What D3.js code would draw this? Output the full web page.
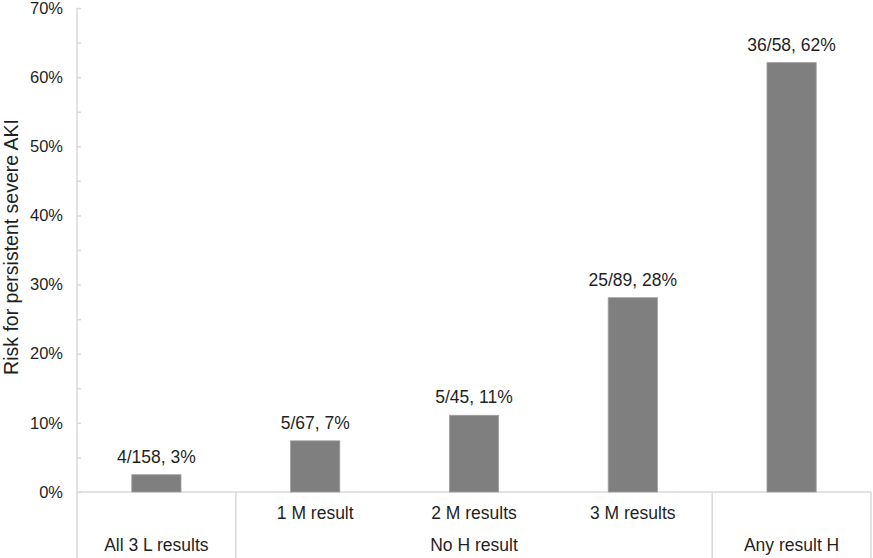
<!DOCTYPE html>
<html>
<head>
<meta charset="utf-8">
<script src="https://cdn.jsdelivr.net/npm/d3@7"></script>
<style>
    body { margin: 0; background: #fff; }
    svg text { font-family: "Liberation Sans", Arial, sans-serif; fill: #1f1f1f; }
</style>
</head>
<body>
<svg id="drawing_region"></svg>
<script>
// chart values
const categories = ["All 3 L results", "1 M result", "2 M results", "3 M results", "Any result H"];
const groups = ["All 3 L results", "No H result", "No H result", "No H result", "Any result H"];
const risk = [0.025, 0.074, 0.111, 0.281, 0.621];
const valueLabels = ["4/158, 3%", "5/67, 7%", "5/45, 11%", "25/89, 28%", "36/58, 62%"];
const yTicks = [0, 0.1, 0.2, 0.3, 0.4, 0.5, 0.6, 0.7];

const config = {
    width: 873,
    height: 558,
    margin: { top: 8, right: 2, bottom: 66, left: 77 }
};

const svg = d3.select('#drawing_region')
    .attr('width', config.width)
    .attr('height', config.height);

const inner_width = config.width - config.margin.left - config.margin.right;
const inner_height = config.height - config.margin.top - config.margin.bottom;
const axisColor = '#d9d9d9';

const chart = svg.append('g')
    .attr('transform', `translate(${config.margin.left}, ${config.margin.top})`);

const xscale = d3.scaleBand()
    .domain(d3.range(categories.length))
    .range([0, inner_width])
    .paddingInner(0.69)
    .paddingOuter(0.345);

const yscale = d3.scaleLinear()
    .domain([0, 0.7])
    .range([inner_height, 0]);

// y axis with minor ticks every 5%, ticks drawn to the inside
const minorTicks = d3.range(0, 0.7001, 0.05);
const yaxis = d3.axisRight(yscale)
    .tickValues(minorTicks)
    .tickSize(4)
    .tickFormat('');

const yaxis_group = chart.append('g').call(yaxis);
yaxis_group.select('.domain').remove();
yaxis_group.selectAll('.tick line')
    .attr('stroke', axisColor)
    .attr('stroke-width', 1.5);

chart.append('line')
    .attr('x1', 0).attr('x2', 0)
    .attr('y1', yscale(0.7)).attr('y2', config.height - config.margin.top)
    .attr('stroke', axisColor)
    .attr('stroke-width', 1.5);

chart.selectAll('.ylabel')
    .data(yTicks)
    .enter()
    .append('text')
    .attr('class', 'ylabel')
    .attr('x', -14)
    .attr('y', d => yscale(d))
    .attr('dy', '0.35em')
    .attr('text-anchor', 'end')
    .attr('font-size', '16.5px')
    .text(d3.format('.0%'));

// baseline and category divider lines
chart.append('line')
    .attr('x1', 0).attr('x2', inner_width)
    .attr('y1', yscale(0)).attr('y2', yscale(0))
    .attr('stroke', axisColor)
    .attr('stroke-width', 1.5);

const step = xscale.step();
const dividers = [1, 4, 5];
chart.selectAll('.divider')
    .data(dividers)
    .enter()
    .append('line')
    .attr('class', 'divider')
    .attr('x1', d => d * step).attr('x2', d => d * step)
    .attr('y1', yscale(0)).attr('y2', config.height - config.margin.top)
    .attr('stroke', axisColor)
    .attr('stroke-width', 1.5);

// bars
chart.selectAll('rect')
    .data(risk)
    .enter()
    .append('rect')
    .attr('x', (d, i) => xscale(i))
    .attr('y', d => yscale(d))
    .attr('width', xscale.bandwidth())
    .attr('height', d => yscale(0) - yscale(d))
    .attr('fill', '#7f7f7f')
    .attr('stroke', '#a0a0a0')
    .attr('stroke-width', 0.8);

chart.selectAll('.vlabel')
    .data(risk)
    .enter()
    .append('text')
    .attr('class', 'vlabel')
    .attr('x', (d, i) => xscale(i) + xscale.bandwidth() / 2)
    .attr('y', d => yscale(d) - 12)
    .attr('text-anchor', 'middle')
    .attr('font-size', '17.5px')
    .text((d, i) => valueLabels[i]);

// first level category labels (only inside the "No H result" group)
chart.selectAll('.cat')
    .data(categories)
    .enter()
    .filter((d, i) => groups[i] === "No H result")
    .append('text')
    .attr('class', 'cat')
    .attr('x', (d, i) => xscale(categories.indexOf(d)) + xscale.bandwidth() / 2)
    .attr('y', yscale(0) + 27)
    .attr('text-anchor', 'middle')
    .attr('font-size', '17.5px')
    .text(d => d);

// second level group labels
const groupNames = Array.from(new Set(groups));
chart.selectAll('.group')
    .data(groupNames)
    .enter()
    .append('text')
    .attr('class', 'group')
    .attr('x', g => {
        const idx = groups.map((d, i) => d === g ? i : -1).filter(i => i >= 0);
        return (d3.min(idx) + d3.max(idx) + 1) / 2 * step;
    })
    .attr('y', yscale(0) + 59)
    .attr('text-anchor', 'middle')
    .attr('font-size', '17.5px')
    .text(d => d);

// y title
svg.append('text')
    .attr('transform', `translate(17.5, ${config.margin.top + inner_height / 2 - 3})rotate(-90)`)
    .attr('text-anchor', 'middle')
    .attr('font-size', '19.5px')
    .text('Risk for persistent severe AKI');
</script>
</body>
</html>
